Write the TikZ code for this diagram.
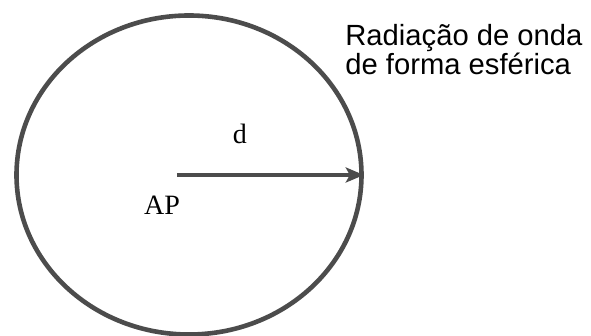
\documentclass[tikz,border=0pt]{standalone}
\usepackage{fontspec}
\setmainfont{Liberation Serif}
\newfontfamily\labelsans{Liberation Sans}
\usetikzlibrary{shapes.geometric,arrows.meta}
\definecolor{wavegray}{gray}{0.3}

\begin{document}
\begin{tikzpicture}[x=0.5pt,y=-0.5pt]
  % pixel grid of the reference, y pointing down
  \useasboundingbox (0,0) rectangle (591,336);
  \node[draw=wavegray,line width=2.3pt,ellipse,inner sep=0pt,
    minimum width=172.5pt,minimum height=159.5pt] (wave) at (189,175) {};
  \coordinate (ap) at (177,175);
  \draw[wavegray,line width=2pt,-{Stealth[length=9pt,width=7.5pt,inset=2pt]}]
    (ap) -- (wave.east);
  \node[font=\fontsize{14}{16}\selectfont] (dist) at (240,134) {d};
  \node[font=\fontsize{14}{16}\selectfont] (aplabel) at (162,205) {AP};
  \node[anchor=base west,align=left,inner sep=0pt,
    font=\labelsans\fontsize{14.6}{12.5}\selectfont] (caption) at (345,75)
    {Radiação de onda\\de forma esférica};
\end{tikzpicture}
\end{document}
